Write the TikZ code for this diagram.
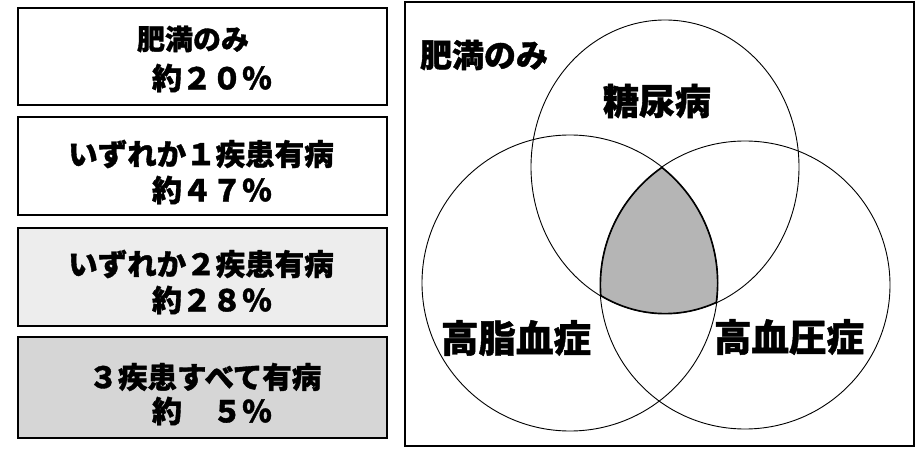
\documentclass[tikz,border=0pt]{standalone}
\usepackage{fontspec}
\newfontfamily\cjk[BoldFeatures={FakeBold=1.2}]{Noto Sans CJK JP}
\begin{document}
\begin{tikzpicture}[x=1pt,y=-1pt,
  box/.style={draw=black,line width=1.8pt,minimum width=369pt,inner sep=0pt},
  btxt/.style={font=\cjk\bfseries\fontsize{28}{30}\selectfont,inner sep=0pt},
  bwide/.style={font=\cjk\bfseries\fontsize{29.5}{31}\selectfont,inner sep=0pt},
  bnum/.style={font=\cjk\bfseries\fontsize{30}{32}\selectfont,inner sep=0pt},
  vtxt/.style={font=\cjk\bfseries\fontsize{36}{38}\selectfont,inner sep=0pt},
  ring/.style={draw=black,line width=0.9pt}]
\useasboundingbox (0,0) rectangle (919,449);
\fill[white] (0,0) rectangle (919,449);
% left boxes
\node[box,fill=white,minimum height=97pt] (b1) at (202.5,56.5) {};
\node[box,fill=white,minimum height=98pt] (b2) at (202.5,166) {};
\node[box,fill=gray!14,minimum height=98pt] (b3) at (202.5,277) {};
\node[box,fill=gray!32,minimum height=101pt] (b4) at (202.5,387.5) {};
\node[btxt] (t1a) at (193,39) {肥満のみ};
\node[bnum] (t1b) at (212,78) {約２０％};
\node[bwide] (t2a) at (201,154) {いずれか１疾患有病};
\node[bnum] (t2b) at (212,190) {約４７％};
\node[bwide] (t3a) at (201,264) {いずれか２疾患有病};
\node[bnum] (t3b) at (212,300) {約２８％};
\node[bwide] (t4a) at (205,377) {３疾患すべて有病};
\node[bnum] (t4b) at (212,411) {約　５％};
% right frame
\node[draw=black,line width=1.8pt,minimum width=509pt,minimum height=444pt,inner sep=0pt] (frame) at (659.5,224) {};
% venn
\coordinate (cD) at (665,167);
\coordinate (cL) at (570,283);
\coordinate (cR) at (745,285);
\begin{scope}
  \clip (cD) ellipse [x radius=134pt, y radius=147pt];
  \clip (cL) ellipse [x radius=148pt, y radius=148pt];
  \clip (cR) ellipse [x radius=145pt, y radius=144pt];
  \fill[gray!58] (cR) ellipse [x radius=145pt, y radius=144pt];
  \draw[line width=2.4pt] (cD) ellipse [x radius=134pt, y radius=147pt];
  \draw[line width=2.4pt] (cL) ellipse [x radius=148pt, y radius=148pt];
  \draw[line width=2.4pt] (cR) ellipse [x radius=145pt, y radius=144pt];
\end{scope}
\draw[ring] (cD) ellipse [x radius=134pt, y radius=147pt];
\draw[ring] (cL) ellipse [x radius=148pt, y radius=148pt];
\draw[ring] (cR) ellipse [x radius=145pt, y radius=144pt];
\node[vtxt,font=\cjk\bfseries\fontsize{32}{34}\selectfont] (obes) at (484,55) {肥満のみ};
\node[vtxt] (dm) at (657,101) {糖尿病};
\node[vtxt,font=\cjk\bfseries\fontsize{37.5}{40}\selectfont] (hl) at (516,338) {高脂血症};
\node[vtxt,font=\cjk\bfseries\fontsize{37.5}{40}\selectfont] (ht) at (789,337) {高血圧症};
\end{tikzpicture}
\end{document}
